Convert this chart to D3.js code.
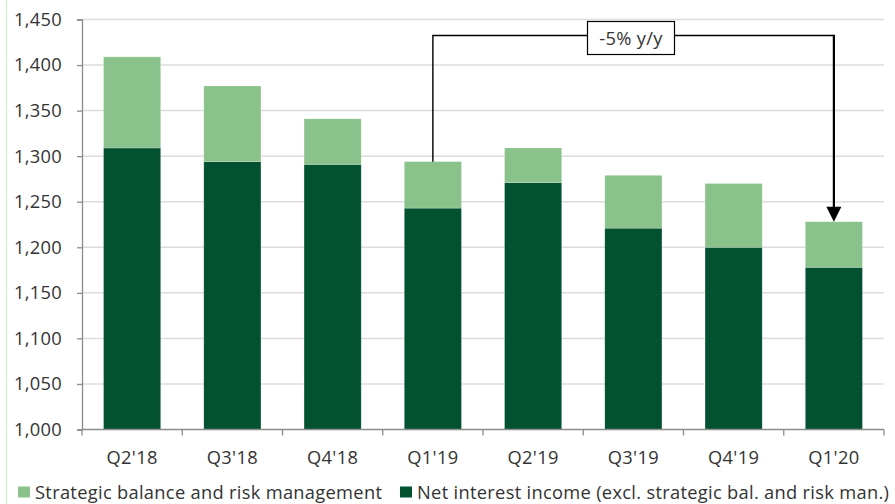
<!DOCTYPE html>
<html>
<head>
<meta charset="utf-8">
<script src="https://cdn.jsdelivr.net/npm/d3@7/dist/d3.min.js"></script>
<style>
  html, body { margin: 0; padding: 0; background: #fff; }
  svg { display: block; font-family: "Open Sans", Lato, sans-serif; }
  svg text { letter-spacing: 0.3px; }
</style>
</head>
<body>
<svg id="chart" width="895" height="504"></svg>
<script>
// Quarterly net interest income, EURm
const quarters = ["Q2'18", "Q3'18", "Q4'18", "Q1'19", "Q2'19", "Q3'19", "Q4'19", "Q1'20"];
const netInterest = [1309, 1294, 1291, 1243, 1271, 1221, 1200, 1178];
const strategic = [100, 83, 50, 51, 38, 58, 70, 50];
const yTicks = [1000, 1050, 1100, 1150, 1200, 1250, 1300, 1350, 1400, 1450];
const seriesNames = ["Strategic balance and risk management", "Net interest income (excl. strategic bal. and risk man.)"];
const changeLabel = "-5% y/y";
const changeFrom = "Q1'19", changeTo = "Q1'20";

const colLight = "#89c28a", colDark = "#025231";
const fontFam = "'Open Sans', Lato, sans-serif";
const fontSize = 18.3;

const svg = d3.select("#chart");
const margin = { left: 82, right: 11, top: 19.5, bottom: 74.5 };
const W = 895, H = 504;

const x = d3.scaleBand().domain(quarters)
  .range([margin.left, W - margin.right]).paddingInner(0.43).paddingOuter(0.215);
const xOuter = d3.scaleBand().domain(quarters).range([margin.left, W - margin.right]);
const y = d3.scaleLinear().domain([1000, 1450]).range([H - margin.bottom, margin.top]);

// frame edge on the left
svg.append("line").attr("x1", 6.5).attr("x2", 6.5).attr("y1", 0).attr("y2", H)
  .attr("stroke", "#d3e8d3").attr("stroke-width", 1.2);

// gridlines
svg.append("g").selectAll("line").data(yTicks.slice(1)).join("line")
  .attr("x1", margin.left).attr("x2", W - margin.right)
  .attr("y1", d => y(d)).attr("y2", d => y(d))
  .attr("stroke", "#dcdcdc").attr("stroke-width", 1.5);

// stacked bars
const rows = quarters.map((q, i) => ({ q, base: netInterest[i], top: netInterest[i] + strategic[i] }));
svg.append("g").selectAll("rect").data(rows).join("rect")
  .attr("x", d => x(d.q)).attr("width", x.bandwidth())
  .attr("y", d => y(d.base)).attr("height", d => y(1000) - y(d.base))
  .attr("fill", colDark).attr("stroke", "#fff").attr("stroke-opacity", 0.35).attr("stroke-width", 0.6);
svg.append("g").selectAll("rect").data(rows).join("rect")
  .attr("x", d => x(d.q)).attr("width", x.bandwidth())
  .attr("y", d => y(d.top)).attr("height", d => y(d.base) - y(d.top))
  .attr("fill", colLight).attr("stroke", "#fff").attr("stroke-opacity", 0.35).attr("stroke-width", 0.6);

// y axis
const yAxis = svg.append("g").attr("transform", `translate(${margin.left},0)`)
  .call(d3.axisLeft(y).tickValues(yTicks).tickFormat(d3.format(",")).tickSize(5).tickPadding(15));
yAxis.select(".domain").attr("stroke", "#8c8c8c").attr("stroke-width", 1.3);
yAxis.selectAll(".tick line").attr("stroke", "#8c8c8c").attr("stroke-width", 1.3);
yAxis.selectAll("text").attr("font-size", fontSize).attr("fill", "#333").attr("font-family", fontFam);

// x axis: ticks on category boundaries
const xb = svg.append("g").attr("transform", `translate(0,${y(1000)})`);
xb.append("line").attr("x1", margin.left).attr("x2", W - margin.right)
  .attr("stroke", "#8c8c8c").attr("stroke-width", 1.3);
const bounds = quarters.map(q => xOuter(q)).concat([xOuter(quarters[quarters.length - 1]) + xOuter.bandwidth()]);
xb.selectAll("line.tk").data(bounds).join("line").attr("class", "tk")
  .attr("x1", d => d).attr("x2", d => d).attr("y1", 0).attr("y2", 6)
  .attr("stroke", "#8c8c8c").attr("stroke-width", 1.3);
xb.selectAll("text").data(quarters).join("text")
  .attr("x", d => x(d) + x.bandwidth() / 2).attr("y", 34)
  .attr("text-anchor", "middle").attr("font-size", fontSize).attr("fill", "#333")
  .text(d => d);

// year-on-year change bracket
const iFrom = quarters.indexOf(changeFrom), iTo = quarters.indexOf(changeTo);
const xa = x(changeFrom) + x.bandwidth() / 2;
const xe = x(changeTo) + x.bandwidth() / 2;
const ya = y(netInterest[iFrom] + strategic[iFrom]);
const ye = y(netInterest[iTo] + strategic[iTo]);
const yBr = 35.5;
svg.append("path").attr("d", `M${xa},${ya} V${yBr} H${xe}`)
  .attr("fill", "none").attr("stroke", "#000").attr("stroke-width", 1.4);
svg.append("line").attr("x1", xe).attr("x2", xe).attr("y1", yBr - 0.7).attr("y2", ye - 14)
  .attr("stroke", "#000").attr("stroke-width", 2.2);
svg.append("path").attr("d", `M${xe - 7.5},${ye - 15} L${xe + 7.5},${ye - 15} L${xe},${ye} Z`).attr("fill", "#000");

const boxCx = 631;
svg.append("rect").attr("x", boxCx - 43.5).attr("y", 21.5).attr("width", 87).attr("height", 33)
  .attr("fill", "#fff").attr("stroke", "#000").attr("stroke-width", 1.2);
svg.append("text").attr("x", boxCx).attr("y", 44.5).attr("text-anchor", "middle")
  .attr("font-size", fontSize).attr("fill", "#333").text(changeLabel);

// legend
const legend = svg.append("g").attr("transform", "translate(0,492)");
const legendItems = [
  { name: seriesNames[0], color: colLight, x: 18 },
  { name: seriesNames[1], color: colDark, x: 400 }
];
legendItems.forEach(it => {
  legend.append("rect").attr("x", it.x).attr("y", -5.5).attr("width", 12).attr("height", 11).attr("fill", it.color);
  legend.append("text").attr("x", it.x + 17).attr("y", 6.5).attr("font-size", fontSize).attr("fill", "#333").text(it.name);
});
</script>
</body>
</html>
